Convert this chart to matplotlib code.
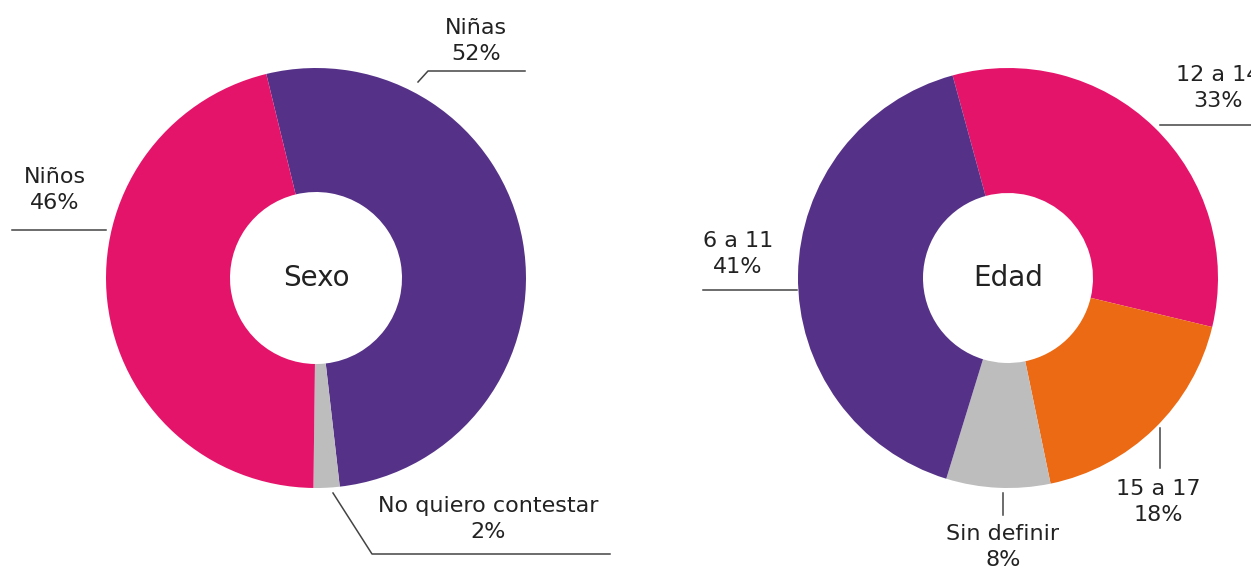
import matplotlib.pyplot as plt

plt.rcParams['font.family'] = ['DejaVu Sans']

# datos
sexo_labels = ["Niñas", "No quiero contestar", "Niños"]
sexo_values = [52, 2, 46]
sexo_colors = ["#553288", "#BDBDBD", "#E5146B"]

edad_labels = ["12 a 14", "15 a 17", "Sin definir", "6 a 11"]
edad_values = [33, 18, 8, 41]
edad_colors = ["#E5146B", "#EB6A13", "#BDBDBD", "#553288"]

W, H = 1251, 571
fig = plt.figure(figsize=(W / 100, H / 100), dpi=100)
ax = fig.add_axes([0, 0, 1, 1])


def Y(py):
    return H - py


def donut(cx, cy, r, r_in, values, colors, start, titulo):
    ax.pie(values, colors=colors, startangle=start, counterclock=False,
           center=(cx, Y(cy)), radius=r, frame=True,
           wedgeprops=dict(width=r - r_in, linewidth=0))
    ax.text(cx, Y(cy), titulo, ha="center", va="center", fontsize=20, color="#222222")


donut(316, 278, 210, 86, sexo_values, sexo_colors, 103.7, "Sexo")
donut(1008, 278, 210, 85, edad_values, edad_colors, 105.3, "Edad")


def etiqueta(x, y, nombre, valor):
    ax.text(x, Y(y), f"{nombre}\n{valor}%", ha="center", va="center",
            fontsize=16, color="#222222", linespacing=1.4)


def linea(xs, ys):
    ax.plot(xs, [Y(v) for v in ys], color="#444444", lw=1.1)


etiqueta(55, 190, sexo_labels[2], sexo_values[2])
linea([12, 106], [230, 230])
etiqueta(476, 41, sexo_labels[0], sexo_values[0])
linea([418, 428, 525], [82, 71, 71])
etiqueta(488, 519, sexo_labels[1], sexo_values[1])
linea([333, 372, 610], [493, 554, 554])

etiqueta(738, 254, edad_labels[3], edad_values[3])
linea([703, 797], [290, 290])
etiqueta(1218, 88, edad_labels[0], edad_values[0])
linea([1160, 1251], [125, 125])
etiqueta(1158, 502, edad_labels[1], edad_values[1])
linea([1160, 1160], [428, 468])
etiqueta(1003, 547, edad_labels[2], edad_values[2])
linea([1003, 1003], [493, 515])

ax.set_xlim(0, W)
ax.set_ylim(0, H)
ax.set_aspect("equal")
ax.axis("off")

fig.savefig("out.png", dpi=100)
